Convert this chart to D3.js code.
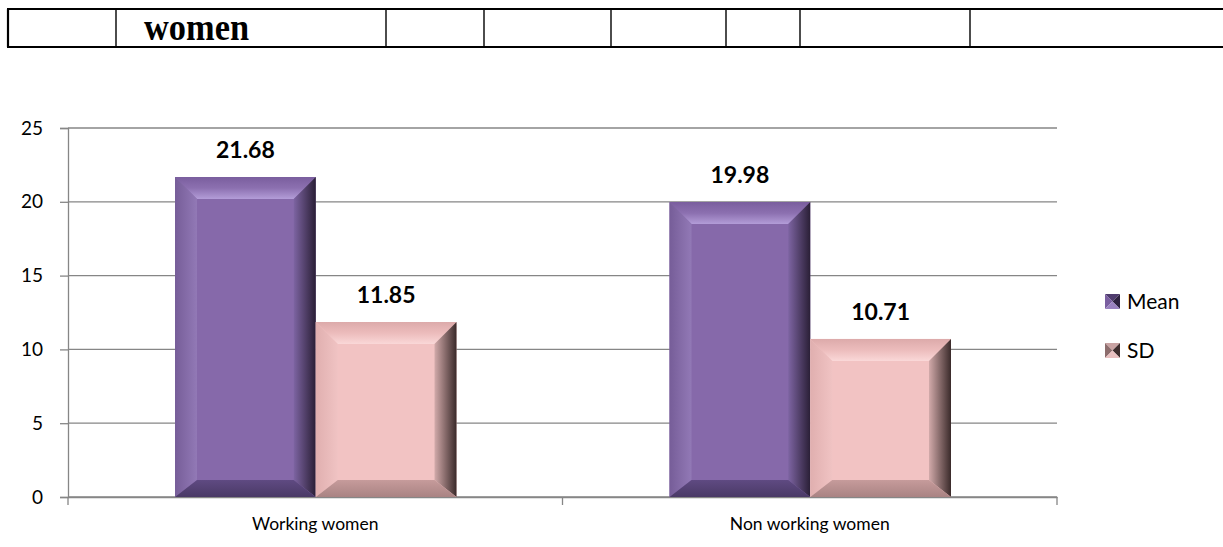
<!DOCTYPE html>
<html><head><meta charset="utf-8">
<script src="https://cdn.jsdelivr.net/npm/d3@7"></script>
<style>body{margin:0;background:#fff;} svg{display:block;}</style>
</head><body>
<script>
const categories = ["Working women", "Non working women"];
const seriesNames = ["Mean", "SD"];
const meanValues = [21.68, 19.98];
const sdValues = [11.85, 10.71];
const yTicks = [0, 5, 10, 15, 20, 25];
const tableCols = [8, 116, 386, 484, 611, 726, 800, 970];

(function () {
const W = 1223, H = 547;
const svg = d3.select("body").append("svg").attr("width", W).attr("height", H);
const FONT = "Lato, 'Open Sans', sans-serif";

// Top table fragment
const tg = svg.append("g");
tg.append("line").attr("x1", 7).attr("x2", W).attr("y1", 9).attr("y2", 9).attr("stroke", "#000").attr("stroke-width", 2.2);
tg.append("line").attr("x1", 7).attr("x2", W).attr("y1", 47).attr("y2", 47).attr("stroke", "#000").attr("stroke-width", 2.2);
tableCols.forEach(x => tg.append("line").attr("x1", x).attr("x2", x).attr("y1", 9).attr("y2", 47).attr("stroke", "#000").attr("stroke-width", x === 8 ? 2.2 : 1.4));
tg.append("text").attr("x", 144).attr("y", 40).text("women")
  .attr("font-family", "'Liberation Serif', serif").attr("font-weight", "bold").attr("font-size", 37)
  .attr("textLength", 105).attr("lengthAdjust", "spacingAndGlyphs").attr("fill", "#000");

const pl = 68, pr = 1057, pt = 128, pb = 497;
const y = d3.scaleLinear().domain([0, 25]).range([pb, pt]);
const x0 = d3.scaleBand().domain(categories).range([pl, pr]).padding(0);
const x1 = d3.scaleBand().domain(seriesNames).range([107, x0.bandwidth() - 106]).padding(0);

// gridlines
svg.append("g").selectAll("line").data(yTicks).join("line")
  .attr("x1", pl).attr("x2", pr).attr("y1", d => y(d)).attr("y2", d => y(d))
  .attr("stroke", "#868686").attr("stroke-width", 1.3);

// y axis
const yAxis = svg.append("g").attr("transform", `translate(${pl},0)`).call(d3.axisLeft(y).tickValues(yTicks).tickSize(8).tickPadding(17));
yAxis.select(".domain").attr("stroke", "#868686").attr("stroke-width", 1.3);
yAxis.selectAll(".tick line").attr("stroke", "#868686").attr("stroke-width", 1.3);
yAxis.selectAll("text").attr("font-family", FONT).attr("font-size", 19).attr("fill", "#000");

// x axis
const xAxis = svg.append("g").attr("transform", `translate(0,${pb})`)
  .call(d3.axisBottom(x0).tickSize(0).tickPadding(21));
xAxis.select(".domain").attr("stroke", "#868686").attr("stroke-width", 1.3);
xAxis.selectAll("text").attr("font-family", FONT).attr("font-size", 17.5).attr("fill", "#000");
const boundaries = [pl, pl + x0.bandwidth(), pr];
svg.append("g").selectAll("line").data(boundaries).join("line")
  .attr("x1", d => d).attr("x2", d => d).attr("y1", pb).attr("y2", pb + 8)
  .attr("stroke", "#868686").attr("stroke-width", 1.3);

// gradients
const defs = svg.append("defs");
function lg(id, ax, ay, bx, by, stops) {
  const g = defs.append("linearGradient").attr("id", id).attr("x1", ax).attr("y1", ay).attr("x2", bx).attr("y2", by);
  stops.forEach(s => g.append("stop").attr("offset", s[0]).attr("stop-color", s[1]));
}
const pal = {
  Mean: { base: "#8669aa", top: ["#7a5e9e", "#8c70b0", "#b39dd8"], left: ["#765d98", "#9279b6"], right: ["#7d64a2", "#2a1f36"], bottom: ["#5f4a82", "#4a3966"],
          icon: ["#4f3c6e", "#7a5fa0", "#2e2240", "#9a82c0"] },
  SD: { base: "#f2c3c3", top: ["#dcaaaa", "#ecbcbc", "#fad8d8"], left: ["#e0afaf", "#f0c3c3"], right: ["#d2aaaa", "#3a2a2a"], bottom: ["#c69b9b", "#a98383"],
          icon: ["#c9a3a3", "#8d6d6d", "#3f2e2e", "#e9c0c0"] }
};
seriesNames.forEach(s => {
  const p = pal[s];
  lg(`top-${s}`, 0, 0, 0, 1, [[0, p.top[0]], [0.5, p.top[1]], [1, p.top[2]]]);
  lg(`left-${s}`, 0, 0, 1, 0, [[0, p.left[0]], [1, p.left[1]]]);
  lg(`right-${s}`, 0, 0, 1, 0, [[0, p.right[0]], [1, p.right[1]]]);
  lg(`bottom-${s}`, 0, 0, 0, 1, [[0, p.bottom[0]], [1, p.bottom[1]]]);
});

const data = [];
categories.forEach((c, i) => {
  data.push({ cat: c, series: "Mean", value: meanValues[i] });
  data.push({ cat: c, series: "SD", value: sdValues[i] });
});

const bt = 22, bs = 22, bb = 17;
const bars = svg.append("g").selectAll("g").data(data).join("g");
bars.each(function(d) {
  const g = d3.select(this);
  const xa = x0(d.cat) + x1(d.series), w = x1.bandwidth();
  const xb = xa + w, ya = y(d.value), yb = y(0);
  g.append("rect").attr("x", xa).attr("y", ya).attr("width", w).attr("height", yb - ya).attr("fill", pal[d.series].base);
  const poly = (pts, fill) => g.append("polygon").attr("points", pts.map(p => p.join(",")).join(" ")).attr("fill", fill);
  poly([[xa, ya], [xb, ya], [xb - bs, ya + bt], [xa + bs, ya + bt]], `url(#top-${d.series})`);
  poly([[xa, ya], [xa + bs, ya + bt], [xa + bs, yb - bb], [xa, yb]], `url(#left-${d.series})`);
  poly([[xb, ya], [xb, yb], [xb - bs, yb - bb], [xb - bs, ya + bt]], `url(#right-${d.series})`);
  poly([[xa, yb], [xa + bs, yb - bb], [xb - bs, yb - bb], [xb, yb]], `url(#bottom-${d.series})`);
  g.append("text").attr("x", xa + w / 2).attr("y", ya - 19).attr("text-anchor", "middle")
    .attr("font-family", FONT).attr("font-weight", "bold").attr("font-size", 23).attr("fill", "#000")
    .text(d3.format(".2f")(d.value));
});

// legend
const leg = svg.append("g").attr("transform", "translate(1105,294)");
seriesNames.forEach((s, i) => {
  const g = leg.append("g").attr("transform", `translate(0,${i * 49})`);
  const sz = 15, p = pal[s];
  const c = [sz / 2, sz / 2];
  const tri = (pts, f) => g.append("polygon").attr("points", pts.map(q => q.join(",")).join(" ")).attr("fill", f);
  tri([[0, 0], [sz, 0], c], p.icon[0]);
  tri([[0, 0], [0, sz], c], p.icon[1]);
  tri([[sz, 0], [sz, sz], c], p.icon[2]);
  tri([[0, sz], [sz, sz], c], p.icon[3]);
  g.append("text").attr("x", sz + 7).attr("y", sz / 2).attr("dy", "0.35em").text(s)
    .attr("font-family", FONT).attr("font-size", 21).attr("fill", "#000");
});
})();
</script>
</body></html>
